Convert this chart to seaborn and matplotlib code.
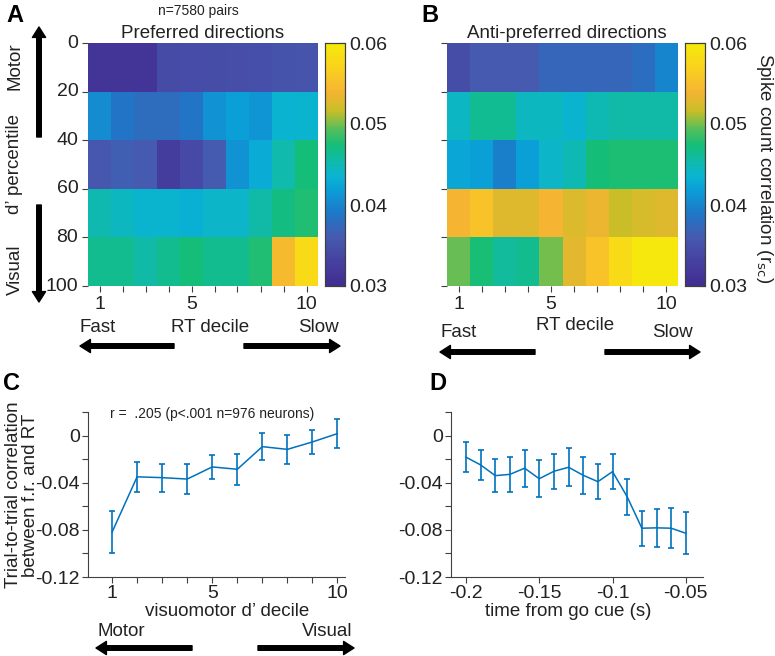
import matplotlib
matplotlib.use("Agg")
import matplotlib.pyplot as plt
import seaborn as sns
import pandas as pd
from matplotlib.colors import LinearSegmentedColormap
from matplotlib.patches import FancyArrowPatch
from matplotlib.ticker import MultipleLocator

# ---- values ----
rt_deciles = list(range(1, 11))
dprime_ticks = [0, 20, 40, 60, 80, 100]

# rows: d' percentile bins 0-20 ... 80-100, columns: RT deciles 1..10
pref_0_20 = [0.0312, 0.0312, 0.0312, 0.0343, 0.0344, 0.0345, 0.0346, 0.0347, 0.0352, 0.0353]
pref_20_40 = [0.0405, 0.0387, 0.0378, 0.0378, 0.0387, 0.0410, 0.0420, 0.0412, 0.0435, 0.0437]
pref_40_60 = [0.0357, 0.0365, 0.0360, 0.0324, 0.0342, 0.0362, 0.0410, 0.0428, 0.0453, 0.0474]
pref_60_80 = [0.0452, 0.0445, 0.0437, 0.0437, 0.0432, 0.0440, 0.0440, 0.0455, 0.0470, 0.0478]
pref_80_100 = [0.0465, 0.0465, 0.0455, 0.0465, 0.0474, 0.0465, 0.0465, 0.0478, 0.0546, 0.0580]

anti_0_20 = [0.0345, 0.0360, 0.0360, 0.0360, 0.0372, 0.0372, 0.0372, 0.0372, 0.0380, 0.0400]
anti_20_40 = [0.0442, 0.0463, 0.0463, 0.0445, 0.0445, 0.0437, 0.0450, 0.0455, 0.0455, 0.0455]
anti_40_60 = [0.0425, 0.0420, 0.0396, 0.0420, 0.0440, 0.0450, 0.0474, 0.0476, 0.0476, 0.0476]
anti_60_80 = [0.0540, 0.0555, 0.0528, 0.0528, 0.0540, 0.0525, 0.0535, 0.0516, 0.0523, 0.0528]
anti_80_100 = [0.0498, 0.0475, 0.0460, 0.0465, 0.0500, 0.0530, 0.0555, 0.0580, 0.0595, 0.0595]

vm_deciles = list(range(1, 11))
vm_corr = [-0.0820, -0.0350, -0.0357, -0.0369, -0.0266, -0.0286, -0.0094, -0.0117, -0.0054, 0.0017]
vm_sem = [0.0180, 0.0125, 0.0120, 0.0125, 0.0105, 0.0130, 0.0117, 0.0124, 0.0100, 0.0120]

time_from_cue = [-0.20, -0.19, -0.18, -0.17, -0.16, -0.15, -0.14, -0.13,
                 -0.12, -0.11, -0.10, -0.09, -0.08, -0.07, -0.06, -0.05]
time_corr = [-0.0183, -0.0249, -0.0340, -0.0329, -0.0277, -0.0366, -0.0303, -0.0269,
             -0.0337, -0.0391, -0.0306, -0.0520, -0.0786, -0.0783, -0.0786, -0.0829]
time_sem = [0.0130, 0.0130, 0.0140, 0.0150, 0.0157, 0.0157, 0.0150, 0.0160,
            0.0155, 0.0150, 0.0147, 0.0150, 0.0150, 0.0160, 0.0170, 0.0180]

# parula-like map, sampled from the printed colour bar
cmap_pos = [0.00, 0.10, 0.20, 0.30, 0.40, 0.45, 0.50, 0.58, 0.65, 0.72, 0.80, 0.90, 1.00]
cmap_rgb = [(65, 45, 145), (70, 65, 160), (70, 90, 175), (30, 120, 200), (10, 160, 215),
            (10, 180, 210), (15, 185, 180), (20, 190, 120), (90, 190, 90), (200, 190, 40),
            (245, 180, 50), (250, 210, 30), (245, 235, 10)]
parula = LinearSegmentedColormap.from_list(
    "parula_print", [(p, tuple(c / 255 for c in rgb)) for p, rgb in zip(cmap_pos, cmap_rgb)])

W, H = 775, 656
TXT = "#222222"
LINE = "#0072BD"


def box(x0, y0, x1, y1):
    # pixel box (top-left origin) -> figure fraction rect
    return [x0 / W, 1 - y1 / H, (x1 - x0) / W, (y1 - y0) / H]


def ftext(x, y, s, **kw):
    kw.setdefault("ha", "center")
    kw.setdefault("va", "center")
    kw.setdefault("color", TXT)
    fig.text(x / W, 1 - y / H, s, **kw)


def arrow(x0, y0, x1, y1):
    fig.add_artist(FancyArrowPatch(
        (x0 / W, 1 - y0 / H), (x1 / W, 1 - y1 / H), transform=fig.transFigure,
        arrowstyle="simple,head_width=0.95,head_length=0.75,tail_width=0.33",
        mutation_scale=10, color="black", shrinkA=0, shrinkB=0))


sns.set_theme(style="ticks")
plt.rcParams["font.family"] = ["Liberation Sans", "DejaVu Sans"]
plt.rcParams["axes.edgecolor"] = "#404040"
plt.rcParams["xtick.color"] = "#404040"
plt.rcParams["ytick.color"] = "#404040"
plt.rcParams["xtick.labelcolor"] = TXT
plt.rcParams["ytick.labelcolor"] = TXT

fig = plt.figure(figsize=(W / 100, H / 100), dpi=100)

pref = pd.DataFrame([pref_0_20, pref_20_40, pref_40_60, pref_60_80, pref_80_100], columns=rt_deciles)
anti = pd.DataFrame([anti_0_20, anti_20_40, anti_40_60, anti_60_80, anti_80_100], columns=rt_deciles)

heat_specs = [
    (pref, box(88, 43, 318, 286), box(325, 43, 345, 286), True),
    (anti, box(447, 43, 678, 286), box(685, 43, 705, 286), False),
]
for data, rect, crect, show_y in heat_specs:
    ax = fig.add_axes(rect)
    cax = fig.add_axes(crect)
    sns.heatmap(data, ax=ax, cbar_ax=cax, cmap=parula, vmin=0.03, vmax=0.06,
                linewidths=0, rasterized=True)
    ax.set_position(rect)
    ax.set_xticks([i + 0.5 for i in range(10)])
    ax.set_xticklabels([str(d) if d in (1, 5, 10) else "" for d in rt_deciles], rotation=0)
    ax.set_yticks(range(6))
    ax.set_yticklabels([str(t) for t in dprime_ticks] if show_y else [""] * 6, rotation=0)
    ax.set_xlabel("")
    ax.set_ylabel("")
    ax.tick_params(direction="out", length=4, width=0.8, labelsize=14, pad=3)
    cax.set_position(crect)
    cax.yaxis.set_ticks([0.03, 0.04, 0.05, 0.06])
    cax.yaxis.set_ticklabels(["0.03", "0.04", "0.05", "0.06"])
    cax.yaxis.set_minor_locator(MultipleLocator(0.005))
    cax.tick_params(which="both", direction="in", length=4, width=0.8, labelsize=14,
                    left=False, right=True, pad=3)
    for sp in cax.spines.values():
        sp.set_visible(True)
        sp.set_linewidth(0.8)

ftext(198, 11, "n=7580 pairs", fontsize=10)
ftext(203, 34, "Preferred directions", fontsize=13.5)
ftext(567, 34, "Anti-preferred directions", fontsize=13.5)
ftext(764, 168, "Spike count correlation (r$_{\\mathrm{sc}}$)", fontsize=13.5, rotation=270)

ftext(15, 164, "d\u2019 percentile", fontsize=13.5, rotation=90)
ftext(15, 66, "Motor", fontsize=13.5, rotation=90)
ftext(15, 270, "Visual", fontsize=13.5, rotation=90)
arrow(39, 137, 39, 27)
arrow(39, 205, 39, 302)

ftext(98, 327, "Fast", fontsize=13.5)
ftext(210, 327, "RT decile", fontsize=13.5)
ftext(318, 327, "Slow", fontsize=13.5)
arrow(174, 346, 80, 346)
arrow(244, 346, 340, 346)

ftext(459, 333, "Fast", fontsize=13.5)
ftext(575, 326, "RT decile", fontsize=13.5)
ftext(672, 333, "Slow", fontsize=13.5)
arrow(535, 352, 440, 352)
arrow(605, 352, 700, 352)

ftext(15, 16, "A", fontsize=17, fontweight="bold", color="black")
ftext(430, 16, "B", fontsize=17, fontweight="bold", color="black")
ftext(12, 384, "C", fontsize=17, fontweight="bold", color="black")
ftext(438, 384, "D", fontsize=17, fontweight="bold", color="black")

# ---- panel C ----
axc = fig.add_axes(box(88, 412, 345, 577))
vm = pd.DataFrame({"decile": vm_deciles, "corr": vm_corr, "sem": vm_sem})
sns.lineplot(data=vm, x="decile", y="corr", ax=axc, color=LINE, linewidth=1.1)
axc.errorbar(vm["decile"], vm["corr"], yerr=vm["sem"], fmt="none", ecolor=LINE,
             elinewidth=1.2, capsize=2, capthick=1.2)
axc.set_xlim(0.04, 10.3)
axc.set_xticks(vm_deciles)
axc.set_xticklabels([str(d) if d in (1, 5, 10) else "" for d in vm_deciles])
ftext(227, 612, "visuomotor d\u2019 decile", fontsize=13.5)
ftext(212, 414, "r =  .205 (p<.001 n=976 neurons)", fontsize=10)
ftext(22, 495, "Trial-to-trial correlation\nbetween f.r. and RT", fontsize=13.5,
      rotation=90, linespacing=1.05)
ftext(121, 632, "Motor", fontsize=13.5)
ftext(327, 632, "Visual", fontsize=13.5)
arrow(192, 648, 96, 648)
arrow(258, 648, 354, 648)

# ---- panel D ----
axd = fig.add_axes(box(451, 412, 703, 577))
tm = pd.DataFrame({"t": time_from_cue, "corr": time_corr, "sem": time_sem})
sns.lineplot(data=tm, x="t", y="corr", ax=axd, color=LINE, linewidth=1.1)
axd.errorbar(tm["t"], tm["corr"], yerr=tm["sem"], fmt="none", ecolor=LINE,
             elinewidth=1.2, capsize=2, capthick=1.2)
axd.set_xlim(-0.2102, -0.0383)
axd.set_xticks([-0.2, -0.15, -0.1, -0.05])
axd.set_xticklabels(["-0.2", "-0.15", "-0.1", "-0.05"])
ftext(568, 612, "time from go cue (s)", fontsize=13.5)

for ax in (axc, axd):
    ax.set_ylim(-0.12, 0.02)
    ax.set_yticks([-0.12, -0.10, -0.08, -0.06, -0.04, -0.02, 0, 0.02])
    ax.set_yticklabels(["-0.12", "", "-0.08", "", "-0.04", "", "0", ""])
    ax.set_xlabel("")
    ax.set_ylabel("")
    sns.despine(ax=ax)
    ax.spines["left"].set_linewidth(0.8)
    ax.spines["bottom"].set_linewidth(0.8)
    ax.tick_params(direction="out", length=4, width=0.8, labelsize=14, pad=2)

fig.savefig("out.png", dpi=100)
